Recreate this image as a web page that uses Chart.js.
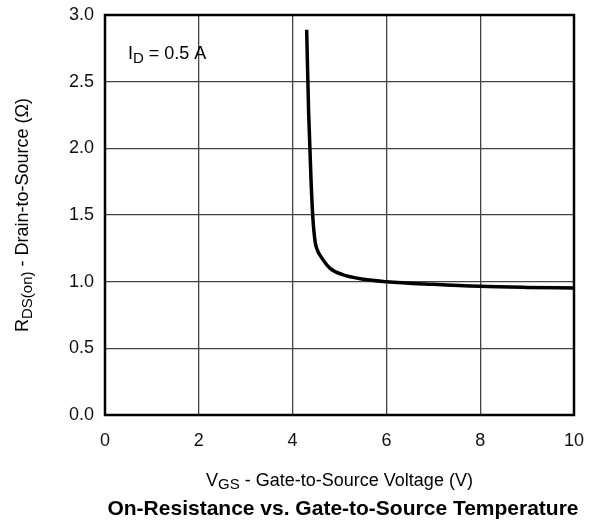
<!DOCTYPE html>
<html>
<head>
<meta charset="utf-8">
<script src="https://cdn.jsdelivr.net/npm/chart.js@4/dist/chart.umd.min.js"></script>
<style>
html,body{margin:0;padding:0;background:#fff;}
#wrap{width:595px;height:523px;}
</style>
</head>
<body>
<div id="wrap"><canvas id="c" width="595" height="523"></canvas></div>
<script>
const vgs = [4.30, 4.34, 4.39, 4.43, 4.48, 4.53, 4.60, 4.80, 5.05, 5.51, 6.0, 7.0, 8.0, 9.0, 10.0];
const rdson = [2.89, 2.29, 1.79, 1.49, 1.30, 1.235, 1.19, 1.10, 1.055, 1.018, 1.0, 0.98, 0.965, 0.957, 0.952];
const xTicks = [0, 2, 4, 6, 8, 10];
const yTicks = [0.0, 0.5, 1.0, 1.5, 2.0, 2.5, 3.0];
const xTitle = ['V', 'GS', ' - Gate-to-Source Voltage (V)'];
const yTitle = ['R', 'DS(on)', ' - Drain-to-Source (\u03A9)'];
const annot = ['I', 'D', ' = 0.5 A'];
const chartTitle = 'On-Resistance vs. Gate-to-Source Temperature';

const FONT = '"Liberation Sans", Arial, Helvetica, sans-serif';

function drawSub(ctx, parts, size, subSize, subOff, x, y, align) {
  ctx.font = size + 'px ' + FONT;
  const w0 = ctx.measureText(parts[0]).width;
  ctx.font = subSize + 'px ' + FONT;
  const w1 = ctx.measureText(parts[1]).width;
  ctx.font = size + 'px ' + FONT;
  const w2 = ctx.measureText(parts[2]).width;
  const total = w0 + w1 + w2;
  let sx = align === 'center' ? x - total / 2 : x;
  ctx.textBaseline = 'alphabetic';
  ctx.textAlign = 'left';
  ctx.fillText(parts[0], sx, y);
  ctx.font = subSize + 'px ' + FONT;
  ctx.fillText(parts[1], sx + w0, y + subOff);
  ctx.font = size + 'px ' + FONT;
  ctx.fillText(parts[2], sx + w0 + w1, y);
}

const deco = {
  id: 'deco',
  afterDraw(chart) {
    const ctx = chart.ctx;
    const a = chart.chartArea;
    ctx.save();
    ctx.strokeStyle = '#000';
    ctx.lineWidth = 2.5;
    ctx.strokeRect(a.left, a.top, a.right - a.left, a.bottom - a.top);
    ctx.fillStyle = '#000';
    drawSub(ctx, annot, 18, 15, 3.5, a.left + 23, 59, 'left');
    drawSub(ctx, xTitle, 18, 15, 3, (a.left + a.right) / 2, 486, 'center');
    ctx.font = 'bold 21px ' + FONT;
    ctx.textAlign = 'center';
    ctx.textBaseline = 'alphabetic';
    ctx.fillText(chartTitle, 343, 515);
    ctx.save();
    ctx.translate(28, (a.top + a.bottom) / 2);
    ctx.rotate(-Math.PI / 2);
    drawSub(ctx, yTitle, 18, 15, 4, 0, 0, 'center');
    ctx.restore();
    ctx.restore();
  }
};

new Chart(document.getElementById('c'), {
  type: 'scatter',
  data: {
    datasets: [{
      data: vgs.map((v, i) => ({x: v, y: rdson[i]})),
      showLine: true,
      borderColor: '#000',
      borderWidth: 3.5,
      pointRadius: 0,
      cubicInterpolationMode: 'monotone',
      fill: false
    }]
  },
  options: {
    responsive: false,
    animation: false,
    devicePixelRatio: 1,
    layout: {padding: {left: 0, top: 15, right: 21, bottom: 0}},
    plugins: {legend: {display: false}, tooltip: {enabled: false}, title: {display: false}},
    scales: {
      x: {
        type: 'linear', min: 0, max: 10,
        afterBuildTicks(s) { s.ticks = xTicks.map(v => ({value: v})); },
        afterFit(s) { s.height = 108; s.paddingLeft = 0; s.paddingRight = 0; },
        grid: {color: '#444', lineWidth: 1.3, drawTicks: false},
        border: {display: false},
        ticks: {color: '#111', font: {family: FONT, size: 18}, padding: 15, maxRotation: 0,
          callback: v => String(v)}
      },
      y: {
        type: 'linear', min: 0, max: 3,
        afterBuildTicks(s) { s.ticks = yTicks.map(v => ({value: v})); },
        afterFit(s) { s.width = 105; s.paddingTop = 0; s.paddingBottom = 0; },
        grid: {color: '#444', lineWidth: 1.3, drawTicks: false},
        border: {display: false},
        ticks: {color: '#111', font: {family: FONT, size: 18}, padding: 11,
          callback: v => Number(v).toFixed(1)}
      }
    }
  },
  plugins: [deco]
});
</script>
</body>
</html>
